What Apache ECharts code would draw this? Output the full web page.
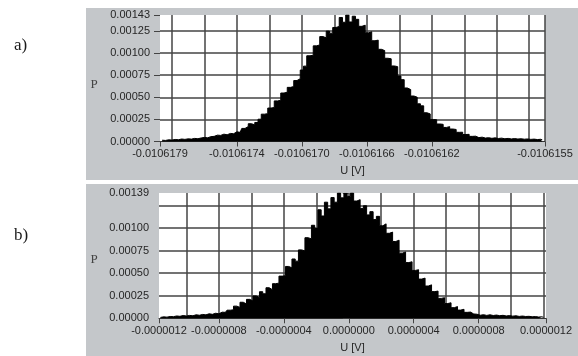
<!DOCTYPE html>
<html><head><meta charset="utf-8">
<script src="https://cdn.jsdelivr.net/npm/echarts@6/dist/echarts.min.js"></script>
<style>html,body{margin:0;padding:0;background:#fff}#c{width:578px;height:356px}</style>
</head><body><div id="c"></div>
<script>
// ---------- Panel a (x in units of 1e-7 V, P in units of 1e-5) ----------
const binStartA = -106178.6;
const binWidthA = 0.2;
const probA = [
  1.5,1.2,1.9,1.6,2.3,2.0,2.8,2.4,3.0,2.7,
  3.5,3.1,4.0,4.6,4.2,5.5,5.8,7.2,6.9,8.3,
  7.6,9.1,8.8,10.9,10.4,14.8,16.9,20.1,18.8,21.5,
  25.2,30.9,31.5,37.8,38.4,45.9,46.5,54.8,55.7,61.2,
  62.1,68.9,71.0,80.8,85.2,96.9,97.5,108.1,109.2,118.6,
  117.2,124.8,122.5,128.9,130.1,140.2,134.8,143.0,135.1,141.6,
  138.1,130.2,131.5,122.8,124.0,113.9,114.6,104.2,102.8,94.1,
  93.5,85.4,84.6,74.1,69.9,60.5,58.7,51.4,50.1,42.6,
  40.3,32.5,31.2,24.9,24.6,19.8,19.4,15.9,16.8,14.1,
  13.6,10.4,10.5,7.9,8.1,5.8,6.0,4.4,4.9,3.9,
  4.3,3.6,4.1,3.4,3.8,3.1,3.5,2.9,3.3,2.8,
  3.1,2.6,2.9,2.4,2.7,2.2,2.5,2.0
];
const xMinA = -106178.735, xMaxA = -106155.03;
const xTickValuesA = [-106178.735, -106174, -106170, -106166, -106162, -106155.03];
const xTickLabelsA = ['-0.0106179','-0.0106174','-0.0106170','-0.0106166','-0.0106162','-0.0106155'];
const xGridValuesA = [-106178,-106176,-106174,-106172,-106170,-106168,-106166,-106164,-106162,-106160,-106158,-106156,-106155.03];
const yMaxA = 143;
const yTickValuesA = [0,25,50,75,100,125,143];
const yTickLabelsA = ['0.00000','0.00025','0.00050','0.00075','0.00100','0.00125','0.00143'];

// ---------- Panel b ----------
const binStartB = -11.6;
const binWidthB = 0.2;
const probB = [
  1.0,1.6,1.3,2.0,1.8,2.6,2.2,3.1,2.5,3.2,
  2.8,3.9,3.4,4.3,3.8,5.0,4.4,5.6,5.0,6.8,
  6.6,9.0,9.4,13.5,12.1,17.8,15.9,21.0,19.2,24.8,
  23.1,29.5,27.2,33.9,31.7,38.4,39.0,46.8,47.2,57.5,
  56.0,65.8,63.4,75.9,74.7,89.4,88.1,103.2,99.6,120.4,
  113.5,128.8,121.4,133.9,128.8,139.0,133.6,138.5,135.2,139.0,
  130.1,131.6,121.9,124.8,114.7,118.3,109.5,113.1,102.6,104.8,
  94.3,95.6,85.2,86.7,72.3,73.6,61.8,62.7,53.1,53.9,
  43.5,44.6,35.8,37.1,29.6,30.2,22.1,22.9,16.4,17.2,
  11.8,13.0,9.1,10.0,6.6,6.9,4.8,4.5,3.4,4.0,
  3.2,3.9,3.1,3.6,2.9,3.3,2.6,3.0,2.4,2.8,
  2.1,2.5,2.0,2.2,1.7,1.9,1.4,1.6,1.1
];
const xMinB = -11.69, xMaxB = 12.15;
const xTickValuesB = [-11.69, -8, -4, 0, 4, 8, 12.15];
const xTickLabelsB = ['-0.0000012','-0.0000008','-0.0000004','0.0000000','0.0000004','0.0000008','0.0000012'];
const xGridValuesB = [-10,-8,-6,-4,-2,0,2,4,6,8,10,12];
const yMaxB = 139;
const yTickValuesB = [0,25,50,75,100,139];
const yTickLabelsB = ['0.00000','0.00025','0.00050','0.00075','0.00100','0.00139'];

const yGridValues = [25,50,75,100,125];

function pairs(start, step, vals){ return vals.map((v,i)=>[start + i*step, v]); }
function lookup(values, labels){
  return function(v){
    let best = 0, bd = Infinity;
    values.forEach((t,i)=>{ const d = Math.abs(t - v); if (d < bd){ bd = d; best = i; } });
    return labels[best];
  };
}

const labelFont = { fontFamily: 'Liberation Sans, Arial, sans-serif', fontSize: 11, color: '#262626' };
const gridLine = { show: true, lineStyle: { color: '#444', width: 1.5 } };

function mainX(gi, min, max, vals, labels){
  return {
    type: 'value', gridIndex: gi, min: min, max: max, position: 'bottom',
    name: 'U [V]', nameLocation: 'middle', nameGap: 24,
    nameTextStyle: { fontFamily: 'Liberation Sans, Arial, sans-serif', fontSize: 11, color: '#262626' },
    axisLine: { show: true, onZero: false, lineStyle: { color: '#333', width: 1 } },
    axisTick: { show: true, length: 5, customValues: vals, lineStyle: { color: '#444' } },
    axisLabel: Object.assign({ customValues: vals, margin: 7, showMinLabel: true, showMaxLabel: true,
      formatter: lookup(vals, labels) }, labelFont),
    splitLine: { show: false }
  };
}
function gridX(gi, min, max, vals){
  return {
    type: 'value', gridIndex: gi, min: min, max: max, position: 'top',
    axisLine: { show: false }, axisLabel: { show: false },
    axisTick: { show: false, customValues: vals },
    splitLine: gridLine
  };
}
function mainY(gi, max, vals, labels){
  return {
    type: 'value', gridIndex: gi, min: 0, max: max, position: 'left',
    axisLine: { show: false },
    axisTick: { show: true, length: 6, customValues: vals, lineStyle: { color: '#444' } },
    axisLabel: Object.assign({ customValues: vals, margin: 10, showMinLabel: true, showMaxLabel: true,
      formatter: lookup(vals, labels) }, labelFont),
    splitLine: { show: false }
  };
}
function gridY(gi, max){
  return {
    type: 'value', gridIndex: gi, min: 0, max: max, position: 'right',
    axisLine: { show: false }, axisLabel: { show: false },
    axisTick: { show: false, customValues: yGridValues },
    splitLine: gridLine
  };
}
function hist(xi, yi, data){
  return {
    type: 'line', xAxisIndex: xi, yAxisIndex: yi, data: data, step: 'middle',
    symbol: 'none', silent: true, animation: false,
    lineStyle: { color: '#000', width: 1 },
    areaStyle: { color: '#000', opacity: 1 }
  };
}

const chart = echarts.init(document.getElementById('c'), null, { renderer: 'canvas' });
chart.setOption({
  animation: false,
  backgroundColor: '#fff',
  grid: [
    { left: 160, top: 15, width: 385, height: 126.5, show: true, backgroundColor: '#fff', borderWidth: 0 },
    { left: 159, top: 193, width: 387, height: 125.3, show: true, backgroundColor: '#fff', borderWidth: 0 }
  ],
  xAxis: [
    mainX(0, xMinA, xMaxA, xTickValuesA, xTickLabelsA),
    gridX(0, xMinA, xMaxA, xGridValuesA),
    mainX(1, xMinB, xMaxB, xTickValuesB, xTickLabelsB),
    gridX(1, xMinB, xMaxB, xGridValuesB)
  ],
  yAxis: [
    mainY(0, yMaxA, yTickValuesA, yTickLabelsA),
    gridY(0, yMaxA),
    mainY(1, yMaxB, yTickValuesB, yTickLabelsB),
    gridY(1, yMaxB)
  ],
  series: [
    hist(0, 0, pairs(binStartA, binWidthA, probA)),
    hist(2, 2, pairs(binStartB, binWidthB, probB))
  ],
  graphic: [
    { type: 'rect', z: -10, shape: { x: 86, y: 8, width: 492, height: 172 }, style: { fill: '#c4c7ca' } },
    { type: 'rect', z: -10, shape: { x: 86, y: 184, width: 492, height: 172 }, style: { fill: '#c4c7ca' } },
    { type: 'rect', z: 100, shape: { x: 86, y: 180, width: 492, height: 4 }, style: { fill: '#fff' } },
    { type: 'text', z: 10, x: 94, y: 85, style: { text: 'P', fontFamily: 'Liberation Serif, Times New Roman, serif', fontSize: 13, fill: '#444', align: 'center', verticalAlign: 'middle' } },
    { type: 'text', z: 10, x: 94, y: 260, style: { text: 'P', fontFamily: 'Liberation Serif, Times New Roman, serif', fontSize: 13, fill: '#444', align: 'center', verticalAlign: 'middle' } },
    { type: 'text', z: 10, x: 14, y: 46, style: { text: 'a)', fontFamily: 'Liberation Serif, Times New Roman, serif', fontSize: 17, fill: '#1a1a1a', align: 'left', verticalAlign: 'middle' } },
    { type: 'text', z: 10, x: 14, y: 236, style: { text: 'b)', fontFamily: 'Liberation Serif, Times New Roman, serif', fontSize: 17, fill: '#1a1a1a', align: 'left', verticalAlign: 'middle' } }
  ]
});
</script>
</body></html>
